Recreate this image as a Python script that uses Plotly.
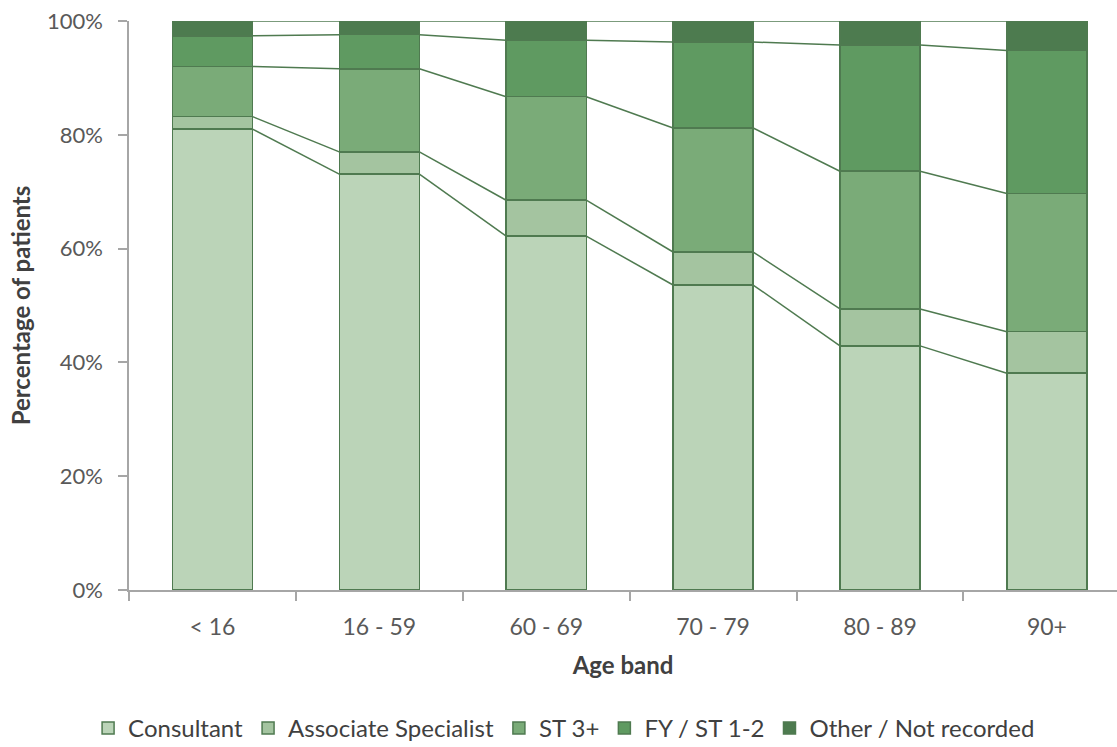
import plotly.graph_objects as go

# Age bands and share of patients (%) by grade of most senior surgeon
age_bands = ["< 16", "16 - 59", "60 - 69", "70 - 79", "80 - 89", "90+"]
consultant = [81.0, 73.1, 62.2, 53.6, 42.9, 38.1]
associate_specialist = [2.2, 3.9, 6.3, 5.8, 6.5, 7.3]
st3_plus = [8.8, 14.6, 18.2, 21.8, 24.2, 24.3]
fy_st12 = [5.4, 6.0, 9.9, 15.1, 22.2, 25.1]
other = [2.6, 2.4, 3.4, 3.7, 4.2, 5.2]

y_ticks = [0, 20, 40, 60, 80, 100]
y_tick_labels = ["0%", "20%", "40%", "60%", "80%", "100%"]

series = [
    ("Consultant", consultant, "#bbd4b8"),
    ("Associate Specialist", associate_specialist, "#a4c4a0"),
    ("ST 3+", st3_plus, "#7aab78"),
    ("FY / ST 1-2", fy_st12, "#5f9a61"),
    ("Other / Not recorded", other, "#4d7b4f"),
]

EDGE = "#4f7a50"
AXIS = "#a6a6a6"
BAR_W = 0.48
FONT = "Lato"

x_pos = list(range(len(age_bands)))
fig = go.Figure()

for name, vals, color in series:
    fig.add_trace(go.Bar(
        x=x_pos, y=vals, name=name, width=BAR_W,
        marker=dict(color=color, line=dict(color=EDGE, width=1.5)),
    ))

# Series lines joining the top of each stacked segment between neighbouring bars
cum = [0.0] * len(age_bands)
for name, vals, color in series:
    cum = [c + v for c, v in zip(cum, vals)]
    lx, ly = [], []
    for i in range(len(age_bands) - 1):
        lx += [i + BAR_W / 2, i + 1 - BAR_W / 2, None]
        ly += [cum[i], cum[i + 1], None]
    fig.add_trace(go.Scatter(
        x=lx, y=ly, mode="lines", showlegend=False, hoverinfo="skip",
        line=dict(color=EDGE, width=1.5),
    ))

fig.update_layout(
    barmode="stack",
    width=1117, height=747,
    margin=dict(l=129, r=0, t=21, b=157),
    paper_bgcolor="white", plot_bgcolor="white",
    font=dict(family=FONT, size=22, color="#595959"),
    legend=dict(
        orientation="h", xref="container", yref="container",
        x=0.505, xanchor="center", y=0.025, yanchor="middle",
        traceorder="normal", font=dict(size=24, color="#404040"),
        itemwidth=30,
    ),
    xaxis=dict(
        range=[-0.5, 5.42], tickvals=x_pos, ticktext=age_bands,
        ticks="", showline=True, linecolor=AXIS, linewidth=1.5,
        showgrid=False, zeroline=False, ticklabelstandoff=16, automargin=False,
        tickfont=dict(size=23),
        minor=dict(tickvals=[i - 0.5 for i in range(len(age_bands) + 1)],
                   ticks="outside", ticklen=9, tickcolor=AXIS, tickwidth=1.5,
                   showgrid=False),
        title=dict(text="<b>Age band</b>", font=dict(size=24, color="#404040"), standoff=18),
    ),
    yaxis=dict(
        range=[0, 100], tickvals=y_ticks, ticktext=y_tick_labels,
        ticks="outside", ticklen=9, tickcolor=AXIS, tickwidth=1.5,
        showline=True, linecolor=AXIS, linewidth=1.5,
        showgrid=False, zeroline=False, ticklabelstandoff=11, automargin=False,
        title=dict(text="<b>Percentage of patients</b>", font=dict(size=24, color="#404040"), standoff=10),
    ),
)

fig.write_html("out.html")
